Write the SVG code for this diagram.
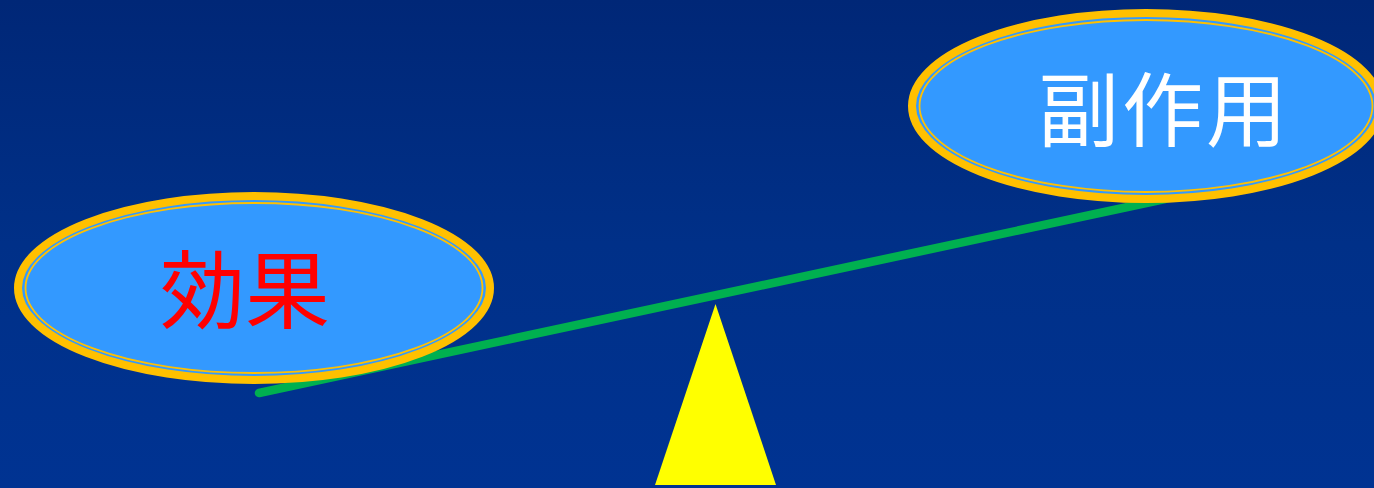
<svg xmlns="http://www.w3.org/2000/svg" width="1374" height="488" viewBox="0 0 1374 488">
  <defs>
    <linearGradient id="bg" x1="0" y1="0" x2="0" y2="1">
      <stop offset="0" stop-color="#002777"/>
      <stop offset="0.5" stop-color="#003088"/>
      <stop offset="1" stop-color="#003392"/>
    </linearGradient>
  </defs>
  <style>
    .pan { fill: #3399FF; stroke: #FFC000; stroke-width: 8; }
    .inner { fill: none; stroke: #FFC000; stroke-width: 1.8; }
    .lbl { font-family: "Noto Sans CJK JP", "Noto Sans CJK SC", sans-serif; text-anchor: middle; font-weight: 400; }
  </style>
  <rect x="0" y="0" width="1374" height="488" fill="url(#bg)"/>
  <g id="connectors">
    <line x1="259" y1="393" x2="1165" y2="199" stroke="#00B050" stroke-width="8.5" stroke-linecap="round"/>
  </g>
  <g id="fulcrum">
    <polygon points="715.5,304 776,485 655,485" fill="#FFFF00"/>
  </g>
  <g id="effect">
    <ellipse class="pan" cx="254" cy="288" rx="236" ry="92"/>
    <ellipse class="inner" cx="254" cy="288" rx="228.5" ry="85"/>
    <text class="lbl" x="245" y="322" font-size="85" fill="#FF0000">効果</text>
  </g>
  <g id="side-effect">
    <ellipse class="pan" cx="1146" cy="106" rx="234" ry="93"/>
    <ellipse class="inner" cx="1146" cy="106" rx="226.5" ry="86"/>
    <text class="lbl" x="1164" y="140" font-size="81" fill="#FFFFFF" letter-spacing="3">副作用</text>
  </g>
</svg>
